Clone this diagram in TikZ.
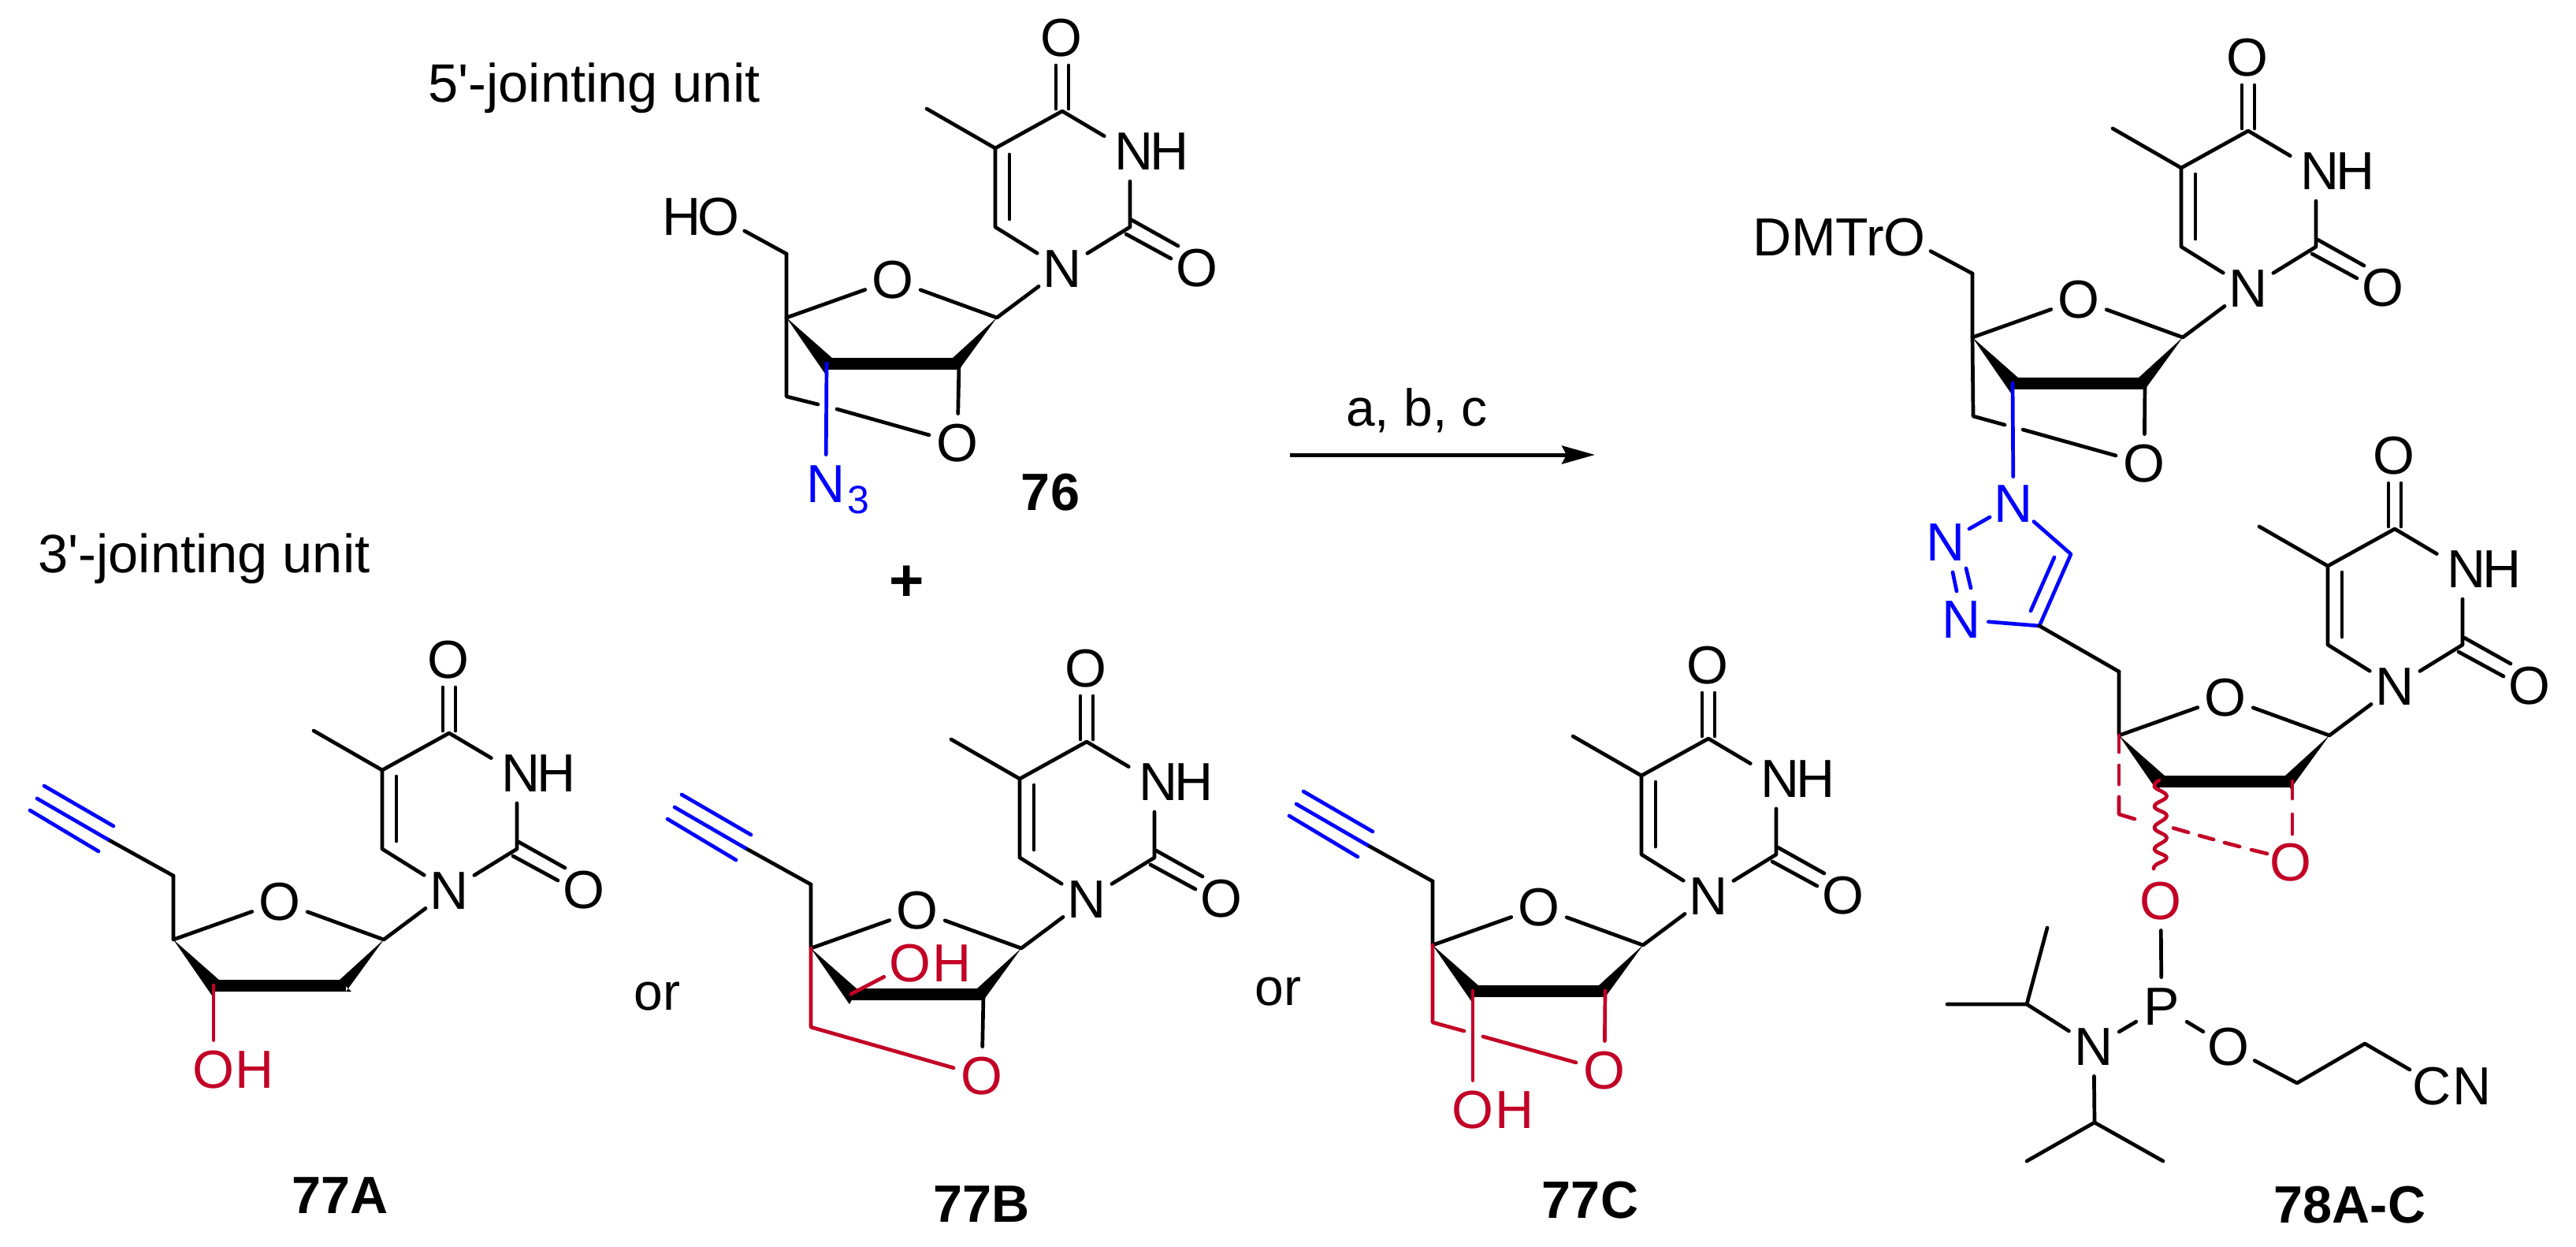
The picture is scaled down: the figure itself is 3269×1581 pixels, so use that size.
\documentclass[tikz,border=0pt]{standalone}
\usepackage{fontspec}
\setmainfont{Liberation Sans}[Ligatures=TeXOff]
\usetikzlibrary{arrows.meta}
\definecolor{azide}{rgb}{0,0,1}
\definecolor{crim}{rgb}{0.76,0,0.15}
\tikzset{
  bond/.style={line width=2.35pt,line cap=round,line join=round},
  blueb/.style={bond,draw=azide},
  redb/.style={bond,draw=crim},
  atom/.style={circle,minimum size=37pt,inner sep=0pt,font=\fontsize{34}{36}\selectfont},
  txt/.style={inner sep=0pt,font=\fontsize{34}{36}\selectfont},
  ortxt/.style={inner sep=0pt,font=\fontsize{33}{36}\selectfont},
  bigtxt/.style={inner sep=0pt,font=\fontsize{34.3}{38}\selectfont},
  bold/.style={inner sep=0pt,font=\fontsize{33.3}{36}\selectfont\bfseries},
  subs/.style={inner sep=0pt,font=\fontsize{25}{28}\selectfont}
}
% prefix, x, y, lower point of the right wedge base
\newcommand\nucleo[4]{%
\begin{scope}[shift={(#2,#3)}]
\node[atom] (#1N1) at (0,0) {N};
\node[atom] (#1N3) at (86,-149) {\hspace{5pt}N};
\node[txt] (#1H3) at (136,-149) {H};
\node[atom] (#1O4) at (-1,-293) {O};
\node[atom] (#1O2) at (171,-1) {O};
\node[atom] (#1Os) at (-215,14) {O};
\coordinate (#1C4) at (0,-200);
\coordinate (#1C5) at (-85,-153);
\coordinate (#1Me) at (-172,-203);
\coordinate (#1C6) at (-85,-53);
\coordinate (#1C2) at (86,-53);
\coordinate (#1C1p) at (-83,62);
\coordinate (#1C4p) at (-350,62);
\coordinate (#1CH) at (-350,-19);
\coordinate (#1C3p) at (-299,120);
\coordinate (#1C2p) at (-131,120);
\coordinate (#1a1) at (-8,-203);\coordinate (#1a2) at (-8,-258);
\coordinate (#1b1) at (8,-203);\coordinate (#1b2) at (8,-258);
\coordinate (#1c1) at (88,-62);\coordinate (#1c2) at (147,-29);
\coordinate (#1d1) at (81,-44);\coordinate (#1d2) at (138,-13);
\coordinate (#1e1) at (-67,-145);\coordinate (#1e2) at (-67,-63);
\draw[bond] (#1N1)--(#1C6)--(#1C5)--(#1C4)--(#1N3)--(#1C2)--(#1N1);
\draw[bond] (#1C5)--(#1Me);
\draw[bond] (#1a1)--(#1a2);
\draw[bond] (#1b1)--(#1b2);
\draw[bond] (#1c1)--(#1c2);
\draw[bond] (#1d1)--(#1d2);
\draw[bond] (#1e1)--(#1e2);
\draw[bond] (#1N1)--(#1C1p)--(#1Os)--(#1C4p)--(#1CH);
\fill (#1C4p)--(-291,114)--(-301,133)--cycle;
\fill (-301,113) rectangle (-131,128);
\fill (#1C1p)--(-139,113)--#4--(-131,128)--cycle;
\end{scope}}
% prefix, x, y : ethynyl on the CH2 of a nucleoside placed at x, y
\newcommand\ethynyl[3]{%
\begin{scope}[shift={(#2,#3)}]
\coordinate (#1Cy) at (-433,-65);
\coordinate (#1Cz) at (-523,-117);
\coordinate (#1u1) at (-426,-82);\coordinate (#1u2) at (-514,-133);
\coordinate (#1l1) at (-445,-50);\coordinate (#1l2) at (-532,-102);
\draw[bond] (#1CH)--(#1Cy);
\draw[blueb] (#1Cy)--(#1Cz);
\draw[blueb] (#1u1)--(#1u2);
\draw[blueb] (#1l1)--(#1l2);
\end{scope}}
\begin{document}
\begin{tikzpicture}[x=0.5pt,y=-0.5pt]
\useasboundingbox (0,0) rectangle (3269,1581);
\fill[white] (0,0) rectangle (3269,1581);

% captions
\node[bigtxt,anchor=base west] (cap5) at (543,129) {5'-jointing unit};
\node[bigtxt,anchor=base west] (cap3) at (48,726) {3'-jointing unit};
\node[inner sep=0pt,font=\fontsize{38}{40}\selectfont\bfseries] (plus) at (1150.5,740) {+};
\node[ortxt] (or1) at (834,1264) {or};
\node[ortxt] (or2) at (1622,1258) {or};

% 76
\nucleo{t}{1348}{341}{(-131,133)}
\node[atom] (tHO) at (912,275) {O};
\node[txt] (tHH) at (865,275) {H};
\draw[bond] (tHO)--(tCH);
\coordinate (tBr) at (998,503);
\coordinate (tG1) at (1038,513);
\coordinate (tG2) at (1062,519);
\node[atom] (tOb) at (1215,562) {O};
\draw[bond] (tC4p)--(tBr)--(tG1);
\draw[bond] (tG2)--(tOb);
\draw[bond] (tC2p)--(tOb);
\node[atom,text=azide] (tNz) at (1048,614) {N};
\node[subs,text=azide] (tN3) at (1089,634) {3};
\draw[blueb] (tC3p)--(tNz);
\node[bold] (l76) at (1333,625) {76};

% reaction arrow
\coordinate (arS) at (1637,577);
\coordinate (arE) at (2024,577);
\draw[line width=2.5pt,-{Stealth[length=21pt,width=11.5pt,inset=3pt]}] (arS)--(arE);
\node[txt,font=\fontsize{33}{36}\selectfont,anchor=base] (abc) at (1798,540) {a, b, c};

% 77A
\nucleo{a}{570}{1130}{(-124,128)}
\ethynyl{a}{570}{1130}
\node[atom,text=crim] (aOH) at (271,1357) {O};
\node[txt,text=crim] (aHH) at (323,1357) {H};
\draw[redb] (aC3p)--(aOH);
\node[bold] (l77a) at (432,1517) {77A};

% 77B
\nucleo{b}{1379}{1141}{(-131,133)}
\ethynyl{b}{1379}{1141}
\coordinate (bBr) at (1029,1303);
\node[atom,text=crim] (bOb) at (1246,1365) {O};
\draw[bond] (bC2p)--(bOb);
\draw[redb] (bC4p)--(bBr)--(bOb);
\node[atom,text=crim] (bOH) at (1155,1222) {O};
\node[txt,text=crim] (bHH) at (1208,1222) {H};
\draw[redb] (bC3p)--(bOH);
\node[bold] (l77b) at (1246,1528) {77B};

% 77C
\nucleo{c}{2168}{1137}{(-131,133)}
\ethynyl{c}{2168}{1137}
\coordinate (cBr) at (1818,1297);
\coordinate (cG1) at (1858,1308);
\coordinate (cG2) at (1882,1315);
\node[atom,text=crim] (cOb) at (2036,1358) {O};
\draw[redb] (cC4p)--(cBr)--(cG1);
\draw[redb] (cG2)--(cOb);
\draw[redb] (cC2p)--(cOb);
\node[atom,text=crim] (cOH) at (1869,1408) {O};
\node[txt,text=crim] (cHH) at (1922,1408) {H};
\draw[redb] (cC3p)--(cOH);
\node[bold] (l77c) at (2018,1523) {77C};

% 78 upper nucleoside
\nucleo{p}{2853}{366}{(-131,133)}
\node[atom] (pOD) at (2417,301) {O};
\node[txt,anchor=east] (pDM) at (2392,301) {DMTr};
\draw[bond] (pOD)--(pCH);
\coordinate (pBr) at (2504,528);
\coordinate (pG1) at (2544,539);
\coordinate (pG2) at (2567,545);
\node[atom] (pOb) at (2721,588) {O};
\draw[bond] (pC4p)--(pBr)--(pG1);
\draw[bond] (pG2)--(pOb);
\draw[bond] (pC2p)--(pOb);

% triazole
\tikzset{tz/.style={atom,text=azide,minimum size=34pt}}
\node[tz] (zN1) at (2555,639) {N};
\node[tz] (zN2) at (2469,688) {N};
\node[tz] (zN3) at (2489,786) {N};
\coordinate (zC4) at (2588,794);
\coordinate (zC5) at (2628,703);
\coordinate (ze1) at (2607,707);\coordinate (ze2) at (2577,775);
\coordinate (zf1) at (2478,726);\coordinate (zf2) at (2483,750);
\coordinate (zg1) at (2495,721);\coordinate (zg2) at (2501,746);
\draw[blueb] (pC3p)--(zN1);
\draw[blueb] (zN1)--(zN2);
\draw[blueb] (zN1)--(zC5)--(zC4)--(zN3);
\draw[blueb] (ze1)--(ze2);
\draw[blueb] (zf1)--(zf2);
\draw[blueb] (zg1)--(zg2);

% 78 lower nucleoside
\nucleo{q}{3039}{871}{(-131,133)}
\draw[bond] (zC4)--(qCH);
\node[atom,text=crim] (qOb) at (2907,1094) {O};
\node[atom,text=crim] (qOP) at (2742,1143) {O};
% dashed bridge, dash by dash
\coordinate (da1) at (2689,954);
\coordinate (da2) at (2689,971);\coordinate (da3) at (2689,995);
\coordinate (da4) at (2689,1011);\coordinate (da5) at (2689,1033);\coordinate (da6) at (2709,1039);
\draw[redb] (qC4p)--(da1);
\draw[redb] (da2)--(da3);
\draw[redb] (da4)--(da5)--(da6);
\coordinate (db1) at (2758,1050.5);\coordinate (db2) at (2777,1056);
\coordinate (db3) at (2791,1060);\coordinate (db4) at (2809,1065);
\coordinate (db5) at (2823,1069);\coordinate (db6) at (2842,1074);
\coordinate (db7) at (2857,1078);\coordinate (db8) at (2877,1083);
\draw[redb] (db1)--(db2);
\draw[redb] (db3)--(db4);
\draw[redb] (db5)--(db6);
\draw[redb] (db7)--(db8);
\coordinate (dc1) at (2909,991);\coordinate (dc2) at (2909,1013);
\coordinate (dc3) at (2909,1033);\coordinate (dc4) at (2909,1058);
\draw[redb] (dc1)--(dc2);
\draw[redb] (dc3)--(dc4);
% wavy bond
\draw[redb] plot[smooth,tension=0.75] coordinates {(2740,990) (2734,998) (2749.5,1010) (2734,1023) (2749.5,1035) (2734,1050) (2749.5,1063) (2734,1077) (2749.5,1088) (2736,1097) (2733,1102)};

% phosphoramidite
\node[atom] (rP) at (2743,1277) {P};
\node[atom] (rN) at (2657,1328) {N};
\node[atom] (rO) at (2828,1328) {O};
\node[atom] (rCN) at (3137,1378) {N};
\node[txt] (rCC) at (3086,1378) {C};
\coordinate (r1) at (2915,1374);
\coordinate (r2) at (3001,1324);
\coordinate (r3) at (3058,1357);
\coordinate (i1) at (2572,1274);
\coordinate (i2) at (2471,1274);
\coordinate (i3) at (2598,1177);
\coordinate (j1) at (2658,1424);
\coordinate (j2) at (2572,1473);
\coordinate (j3) at (2745,1473);
\draw[bond] (qOP)--(rP);
\draw[bond] (rP)--(rN);
\draw[bond] (rP)--(rO);
\draw[bond] (rO)--(r1)--(r2)--(r3);
\draw[bond] (rN)--(i1)--(i2);
\draw[bond] (i1)--(i3);
\draw[bond] (rN)--(j1)--(j2);
\draw[bond] (j1)--(j3);
\node[bold] (l78) at (2982,1529) {78A-C};
\end{tikzpicture}
\end{document}
